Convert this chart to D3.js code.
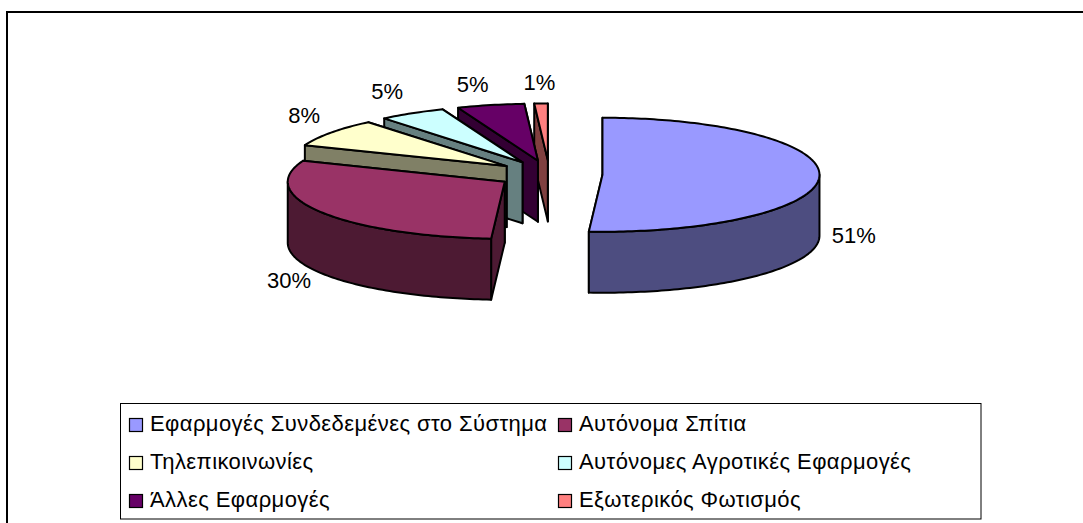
<!DOCTYPE html>
<html>
<head>
<meta charset="utf-8">
<script src="https://cdn.jsdelivr.net/npm/d3@7"></script>
<style>
	html, body { margin: 0; padding: 0; background: #fff; }
	svg { display: block; }
	text { font-family: "Liberation Sans", Arial, sans-serif; fill: #000; }
	.data-label { font-size: 22px; text-anchor: middle; }
	.legend-label { font-size: 22px; letter-spacing: 0.42px; }
</style>
</head>
<body>
<div id="chart"></div>
<script>
'use strict';

// chart data
var categories = [
	'Εφαρμογές Συνδεδεμένες στο Σύστημα',
	'Αυτόνομα Σπίτια',
	'Τηλεπικοινωνίες',
	'Αυτόνομες Αγροτικές Εφαρμογές',
	'Άλλες Εφαρμογές',
	'Εξωτερικός Φωτισμός'
];
var values = [51, 30, 8, 5, 5, 1];
var topColors = ['#9999ff', '#993366', '#ffffcc', '#ccffff', '#660066', '#ff8080'];
var sideColors = ['#4d4d80', '#4d1a33', '#808066', '#668080', '#330033', '#804040'];

// layout
var width = 1083, height = 523;
var cx = 549.5, cy = 174.3;   // centre of the pie before exploding
var rx = 217, ry = 57;        // ellipse of the tilted pie
var explode = 53;             // pull-out distance, along x
var depth = 61;               // thickness of the pie

// nudges of the percent labels from the middle of each slice's rim
var labelNudge = [[34.5, 59], [-32.5, 68], [-27, -18], [-25, -22.5], [-18, -21], [-1.5, -21]];

var svg = d3.select('#chart').append('svg')
	.attr('width', width)
	.attr('height', height);

// outer frame, the crop only leaves its top and left side
svg.append('path')
	.attr('d', 'M7,' + height + 'V12H' + width)
	.attr('fill', 'none')
	.attr('stroke', '#000').attr('stroke-width', 2);

// angles from the pie layout, 0 is at 12 o'clock and clockwise
var arcs = d3.pie().sort(null)(values);

// tilted pie projection
var px = function(center, angle, r) { return center[0] + r * rx * Math.sin(angle); };
var py = function(center, angle, r) { return center[1] - r * ry * Math.cos(angle); };
var line = d3.line();

var rimPoints = function(center, a0, a1, drop) {
	var n = Math.max(2, Math.ceil((a1 - a0) / 0.02));
	return d3.range(n + 1).map(function(i) {
		var a = a0 + (a1 - a0) * i / n;
		return [px(center, a, 1), py(center, a, 1) + drop];
	});
};

var drawShape = function(g, points, color) {
	g.append('path')
		.attr('d', line(points) + 'Z')
		.attr('fill', color)
		.attr('stroke', '#000').attr('stroke-width', 2)
		.attr('stroke-linejoin', 'round');
};

var pie = svg.append('g').attr('class', 'data');

// back slices first, the big front ones paint over them
arcs.slice().reverse().forEach(function(d) {
	var mid = (d.startAngle + d.endAngle) / 2;
	var center = [
		cx + explode * Math.sin(mid),
		cy - explode * (ry / rx) * Math.cos(mid)
	];
	var apexLow = [center[0], center[1] + depth];

	// the two cut walls, the end one is behind
	[d.endAngle, d.startAngle].forEach(function(a) {
		var rimTop = [px(center, a, 1), py(center, a, 1)];
		var rimLow = [rimTop[0], rimTop[1] + depth];
		drawShape(pie, [center, rimTop, rimLow, apexLow], sideColors[d.index]);
	});

	// outer wall, only the part that faces the viewer
	var a0 = Math.max(d.startAngle, Math.PI / 2);
	var a1 = Math.min(d.endAngle, Math.PI * 1.5);
	if (a1 > a0) {
		var band = rimPoints(center, a0, a1, 0).concat(rimPoints(center, a0, a1, depth).reverse());
		drawShape(pie, band, sideColors[d.index]);
	}

	// top face
	drawShape(pie, [center].concat(rimPoints(center, d.startAngle, d.endAngle, 0)), topColors[d.index]);
});

// percent labels
var total = d3.sum(values);
svg.append('g').selectAll('text').data(arcs).enter()
	.append('text')
	.attr('class', 'data-label')
	.attr('x', function(d) {
		var mid = (d.startAngle + d.endAngle) / 2;
		return cx + (explode + rx) * Math.sin(mid) + labelNudge[d.index][0];
	})
	.attr('y', function(d) {
		var mid = (d.startAngle + d.endAngle) / 2;
		return cy - (explode * ry / rx + ry) * Math.cos(mid) + labelNudge[d.index][1];
	})
	.attr('dy', '0.36em')
	.text(function(d) { return d3.format('.0%')(d.value / total); });

// legend
var legend = svg.append('g').attr('class', 'legend');
legend.append('rect')
	.attr('x', 120.5).attr('y', 403.5)
	.attr('width', 860.5).attr('height', 115.5)
	.attr('fill', '#fff').attr('stroke', '#000').attr('stroke-width', 1);

var legendX = d3.scaleOrdinal().domain([0, 1]).range([129.5, 558.5]);
var legendY = d3.scalePoint().domain([0, 1, 2]).range([418.5, 494.5]);

var item = legend.selectAll('g').data(categories).enter()
	.append('g')
	.attr('transform', function(d, i) {
		return 'translate(' + legendX(i % 2) + ',' + legendY(Math.floor(i / 2)) + ')';
	});
item.append('rect')
	.attr('width', 13).attr('height', 13)
	.attr('fill', function(d, i) { return topColors[i]; })
	.attr('stroke', '#000').attr('stroke-width', 1.2);
item.append('text')
	.attr('class', 'legend-label')
	.attr('x', 20.5)
	.attr('y', 12.5)
	.text(function(d) { return d; });
</script>
</body>
</html>
